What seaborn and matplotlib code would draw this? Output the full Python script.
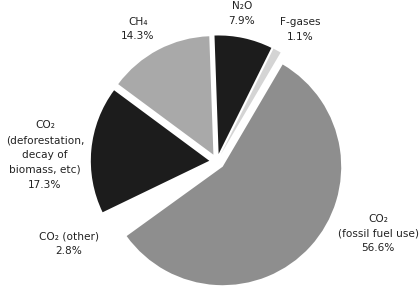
import matplotlib
matplotlib.use("Agg")
import matplotlib.pyplot as plt
import seaborn as sns

sns.set_theme(style="white")
plt.rcParams['font.family'] = ['DejaVu Sans']

# data (counter-clockwise from 12 o'clock)
labels = ["CH₄\n14.3%", "CO₂\n(deforestation,\ndecay of\nbiomass, etc)\n17.3%",
          "CO₂ (other)\n2.8%", "CO₂\n(fossil fuel use)\n56.6%", "F-gases\n1.1%", "N₂O\n7.9%"]
values = [14.3, 17.3, 2.8, 56.6, 1.1, 7.9]
colors = ["#a9a9a9", "#1c1c1c", "#ffffff", "#8e8e8e", "#d4d4d4", "#1c1c1c"]

# label placement (pixel centres in a 420x287 canvas)
label_px = [(138, 29), (45, 155), (69, 243.5), (378, 233.5), (300, 29.5), (242, 13.5)]

W, H = 420, 287
cx, cy, R = 217.0, 161.5, 118.5

fig = plt.figure(figsize=(4.2, 2.87), dpi=100)
ax = fig.add_axes([0, 0, 1, 1])
ax.pie(values, colors=colors, startangle=92, counterclock=True,
       explode=[0.065] * len(values), radius=1.0,
       wedgeprops=dict(linewidth=0))
ax.set_xlim(-cx / R, (W - cx) / R)
ax.set_ylim(-(H - cy) / R, cy / R)
ax.set_aspect('auto')
ax.axis('off')

for lab, (px, py) in zip(labels, label_px):
    ax.text((px - cx) / R, (cy - py) / R, lab, ha='center', va='center',
            fontsize=7.6, color='#222222', linespacing=1.62)

fig.savefig("out.png", dpi=100, facecolor='white')
